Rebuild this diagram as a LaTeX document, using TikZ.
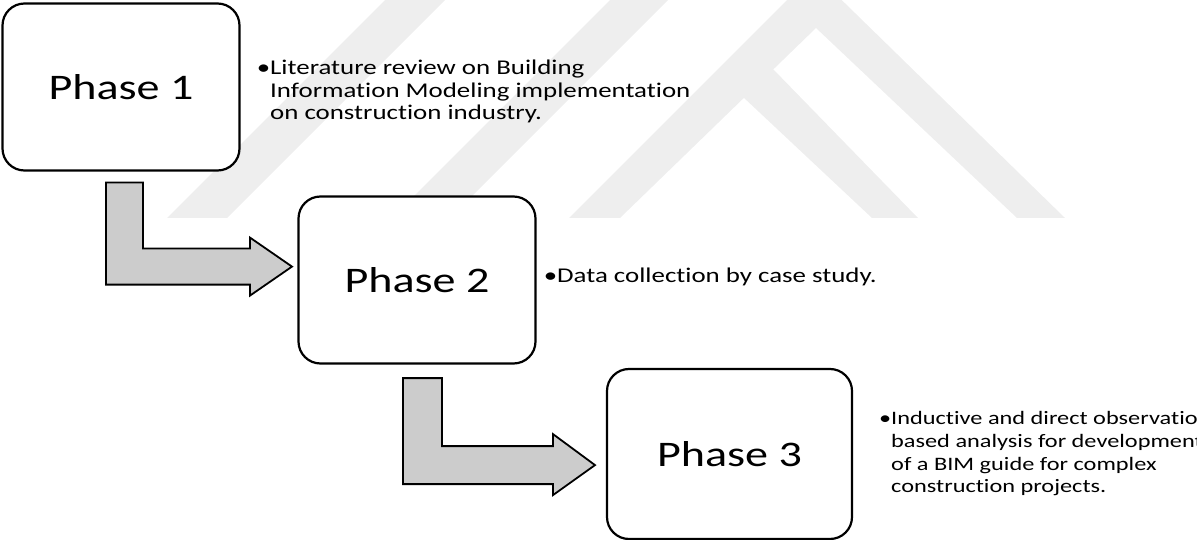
\documentclass[tikz,border=0pt]{standalone}
\usepackage{fontspec}
\setmainfont{Carlito}[FakeStretch=1.28, Ligatures=NoCommon]
\usetikzlibrary{calc}
\definecolor{arrowgray}{RGB}{204,204,204}
\definecolor{markgray}{RGB}{238,238,238}

\begin{document}
\begin{tikzpicture}[x=1pt,y=-1pt,
  phasebox/.style={draw, line width=2.2pt, rounded corners=22pt, fill=white,
    minimum width=237pt, minimum height=167pt, inner sep=0pt,
    font=\fontsize{36}{42}\selectfont},
  note/.style={anchor=north west, align=left, inner sep=0pt,
    font=\fontsize{21}{22.5}\selectfont},
  bentarrow/.style={draw, line width=1.8pt, fill=arrowgray, line join=miter}]
  \useasboundingbox (0,0) rectangle (1197,540);
  \clip (0,0) rectangle (1197,540);

  % faint watermark
  \fill[markgray] (167,218) -- (385,0) -- (445,0) -- (227,218) -- cycle;
  \fill[markgray] (392,218) -- (610,0) -- (668,0) -- (450,218) -- cycle;
  \fill[markgray] (569,218) -- (814,-27) -- (1065,218) -- (1017,218)
    -- (816,28) -- (620,218) -- cycle;
  \fill[markgray] (743,97) -- (772,68) -- (918,218) -- (872,218) -- cycle;

  % phases
  \node[phasebox] (ph1) at (121,87) {Phase 1};
  \node[phasebox] (ph2) at (417,280) {Phase 2};
  \node[phasebox, minimum width=245pt, minimum height=170pt] (ph3) at (729.5,454) {Phase 3};

  % bent arrows
  \draw[bentarrow] ($(ph1.south)+(-15,11)$) -- ++(37,0) -- ++(0,66) -- ++(107,0)
    -- ++(0,-11) -- ++(42,29) -- ++(-42,29) -- ++(0,-11) -- ++(-144,0) -- cycle;
  \draw[bentarrow] ($(ph2.south)+(-14,13.5)$) -- ++(39,0) -- ++(0,68) -- ++(111,0)
    -- ++(0,-12) -- ++(42,31) -- ++(-42,30) -- ++(0,-11) -- ++(-150,0) -- cycle;

  % notes
  \node[note] (desc1) at (270,60) {\llap{•}Literature review on Building\\
    Information Modeling implementation\\on construction industry.};
  \node[note] (desc2) at (557,268) {\llap{•}Data collection by case study.};
  \node[note, font=\fontsize{19}{22.7}\selectfont] (desc3) at (891,411.5)
    {\llap{•}Inductive and direct observation\\
    based analysis for development\\of a BIM guide for complex\\construction projects.};
\end{tikzpicture}
\end{document}
